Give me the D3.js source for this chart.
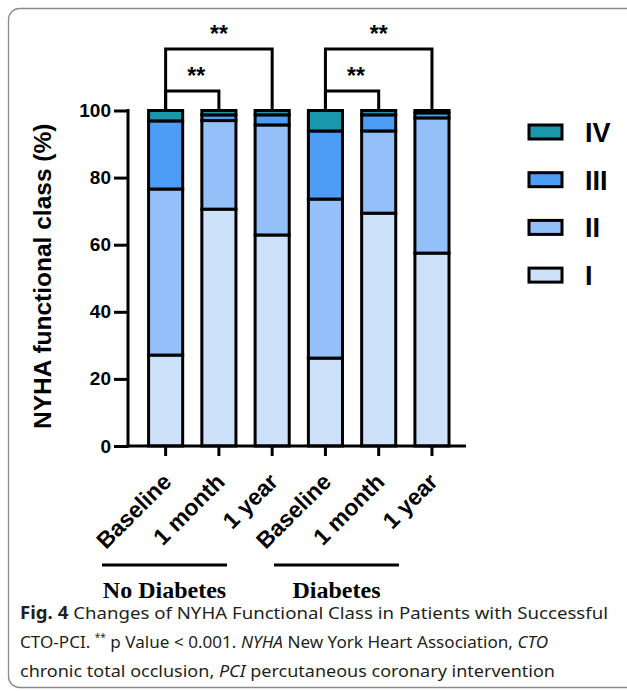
<!DOCTYPE html>
<html>
<head>
<meta charset="utf-8">
<script src="https://cdn.jsdelivr.net/npm/d3@7"></script>
<style>
  body { margin: 0; background: #fff; }
  svg { display: block; }
</style>
</head>
<body>
<script>
// data
var timepoints = ["Baseline", "1 month", "1 year", "Baseline", "1 month", "1 year"];
var barIds = ["nd0", "nd1", "nd2", "d0", "d1", "d2"];
var groups = ["No Diabetes", "Diabetes"];
var classes = ["I", "II", "III", "IV"];
var classI   = [27.1, 70.6, 62.9, 26.2, 69.4, 57.5];
var classII  = [49.5, 26.4, 32.8, 47.4, 24.5, 40.3];
var classIII = [20.3, 1.7, 3.0, 20.3, 4.8, 1.5];
var classIV  = [3.1, 1.3, 1.3, 6.1, 1.3, 0.7];
var yTicks = [0, 20, 40, 60, 80, 100];
// comparisons: from bar, to bar, level
var comparisons = [[0, 1, 1], [0, 2, 2], [3, 4, 1], [3, 5, 2]];

var colors = {"I": "#cde1fb", "II": "#94c0fa", "III": "#4d9cf6", "IV": "#1a97ac"};

var svgWidth = 627, svgHeight = 691;
var svg = d3.select("body").append("svg")
  .attr("width", svgWidth)
  .attr("height", svgHeight);

// frame
svg.append("rect")
  .attr("x", 8.5).attr("y", 8.5)
  .attr("width", 660).attr("height", 679)
  .attr("rx", 11)
  .attr("fill", "none")
  .attr("stroke", "#8a8a8a")
  .attr("stroke-width", 1.3);

var table = barIds.map(function(id, i) {
  return {id: id, I: classI[i], II: classII[i], III: classIII[i], IV: classIV[i]};
});

var x = d3.scaleBand().domain(barIds).range([139, 458.6]).paddingInner(0.36).paddingOuter(0.18);
var y = d3.scaleLinear().domain([0, 100]).range([446, 110.5]);

var series = d3.stack().keys(classes)(table);

// bars
var g = svg.append("g");
series.forEach(function(s) {
  g.selectAll(null)
    .data(s)
    .enter()
    .append("rect")
    .attr("x", d => x(d.data.id))
    .attr("y", d => y(d[1]))
    .attr("width", x.bandwidth())
    .attr("height", d => y(d[0]) - y(d[1]))
    .attr("fill", colors[s.key])
    .attr("stroke", "#000")
    .attr("stroke-width", 3);
});

// y axis
var leftAxis = d3.axisLeft(y).tickValues(yTicks).tickSize(14).tickPadding(3);
var yAxisG = svg.append("g")
  .attr("transform", "translate(128,0)")
  .call(leftAxis);
yAxisG.select(".domain").attr("stroke-width", 3).attr("d", "M0," + (y(100) - 1.5) + "V" + (y(0) + 1.5));
yAxisG.selectAll(".tick line").attr("stroke-width", 3);
yAxisG.selectAll(".tick text")
  .attr("font-family", "Liberation Sans, Arial, sans-serif")
  .attr("font-weight", "bold")
  .attr("font-size", "19px")
  .attr("fill", "#000");

// x axis
var bottomAxis = d3.axisBottom(x).tickSize(10).tickFormat(function(d, i) { return timepoints[i]; });
var xAxisG = svg.append("g")
  .attr("transform", "translate(0," + y(0) + ")")
  .call(bottomAxis);
xAxisG.select(".domain").attr("stroke-width", 3).attr("d", "M126.5,0H466");
xAxisG.selectAll(".tick line").attr("stroke-width", 3);
xAxisG.selectAll(".tick text")
  .attr("font-family", "Liberation Sans, Arial, sans-serif")
  .attr("font-weight", "bold")
  .attr("font-size", "23px")
  .attr("fill", "#000")
  .attr("text-anchor", "end")
  .attr("dy", "0")
  .attr("transform", "translate(-2,28) rotate(-45)");

// y title
svg.append("text")
  .attr("transform", "translate(51," + ((y(0) + y(100)) / 2 - 2) + ") rotate(-90)")
  .attr("text-anchor", "middle")
  .attr("font-family", "Liberation Sans, Arial, sans-serif")
  .attr("font-weight", "bold")
  .attr("font-size", "24.5px")
  .text("NYHA functional class (%)");

// significance brackets
var levelY = {1: 91, 2: 49};
comparisons.forEach(function(c) {
  var x1 = x(barIds[c[0]]) + x.bandwidth() / 2;
  var x2 = x(barIds[c[1]]) + x.bandwidth() / 2;
  var top = levelY[c[2]];
  svg.append("path")
    .attr("d", "M" + x1 + "," + y(100) + "V" + top + "H" + x2 + "V" + y(100))
    .attr("fill", "none")
    .attr("stroke", "#000")
    .attr("stroke-width", 3);
  svg.append("text")
    .attr("x", (x1 + x2) / 2 + (c[2] === 1 ? 4 : 0))
    .attr("y", top - 7)
    .attr("text-anchor", "middle")
    .attr("font-family", "Liberation Sans, Arial, sans-serif")
    .attr("font-weight", "bold")
    .attr("font-size", "23px")
    .text("**");
});

// legend
var legendG = svg.append("g");
classes.slice().reverse().forEach(function(k, i) {
  var cy = 132 + i * 47.7;
  legendG.append("rect")
    .attr("x", 529).attr("y", cy - 7)
    .attr("width", 33).attr("height", 14)
    .attr("fill", colors[k])
    .attr("stroke", "#000")
    .attr("stroke-width", 3);
  legendG.append("text")
    .attr("x", 585).attr("y", cy + 10)
    .attr("font-family", "Liberation Sans, Arial, sans-serif")
    .attr("font-weight", "bold")
    .attr("font-size", "27px")
    .text(k);
});

// group labels
var groupPos = [[102, 227], [274, 399]];
groups.forEach(function(name, i) {
  var p = groupPos[i];
  svg.append("line")
    .attr("x1", p[0]).attr("x2", p[1])
    .attr("y1", 565).attr("y2", 565)
    .attr("stroke", "#000")
    .attr("stroke-width", 3);
  svg.append("text")
    .attr("x", (p[0] + p[1]) / 2)
    .attr("y", 598)
    .attr("text-anchor", "middle")
    .attr("font-family", "Liberation Serif, Times New Roman, serif")
    .attr("font-weight", "bold")
    .attr("font-size", "24px")
    .text(name);
});

// caption
var cap = svg.append("g")
  .attr("font-family", "Noto Sans, Open Sans, sans-serif")
  .attr("font-size", "17px")
  .attr("fill", "#231f20");
var l1 = cap.append("text").attr("x", 20).attr("y", 619).attr("textLength", 588).attr("lengthAdjust", "spacingAndGlyphs");
l1.append("tspan").attr("font-weight", "bold").text("Fig. 4");
l1.append("tspan").text("  Changes of NYHA Functional Class in Patients with Successful");
var l2 = cap.append("text").attr("x", 20).attr("y", 648).attr("textLength", 528).attr("lengthAdjust", "spacingAndGlyphs");
l2.append("tspan").text("CTO-PCI. ");
l2.append("tspan").attr("font-size", "10px").attr("dy", -7).text("**");
l2.append("tspan").attr("dy", 7).text(" p Value < 0.001. ");
l2.append("tspan").attr("font-style", "italic").text("NYHA");
l2.append("tspan").text(" New York Heart Association, ");
l2.append("tspan").attr("font-style", "italic").text("CTO");
var l3 = cap.append("text").attr("x", 20).attr("y", 677).attr("textLength", 535).attr("lengthAdjust", "spacingAndGlyphs");
l3.append("tspan").text("chronic total occlusion, ");
l3.append("tspan").attr("font-style", "italic").text("PCI");
l3.append("tspan").text(" percutaneous coronary intervention");
</script>
</body>
</html>
